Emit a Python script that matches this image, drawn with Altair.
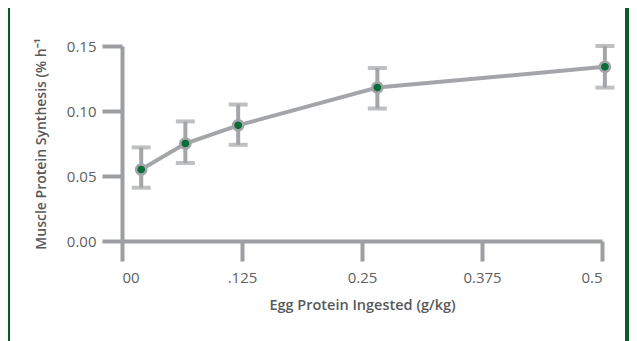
import altair as alt
import pandas as pd

# data
dose = [0.02, 0.066, 0.121, 0.266, 0.503]
mps = [0.055, 0.075, 0.089, 0.118, 0.134]
err_lo = [0.041, 0.060, 0.074, 0.102, 0.118]
err_hi = [0.072, 0.092, 0.105, 0.133, 0.150]

x_ticks = [0, 0.125, 0.25, 0.375, 0.5]
x_tick_labels = ["00", ".125", "0.25", "0.375", "0.5"]
y_ticks = [0, 0.05, 0.10, 0.15]

df = pd.DataFrame({"dose": dose, "mps": mps, "lo": err_lo, "hi": err_hi})

GRAY = "#a3a5a8"
AXIS_GRAY = "#9c9ea1"
TXT = "#5e5f61"
TITLE = "#58595b"
GREEN_BG = "#075c25"
GREEN_PT = "#0a6c3a"
FONT = "Open Sans"

label_expr = " : ".join(
    f"datum.value == {v} ? '{l}'" for v, l in zip(x_ticks, x_tick_labels)
) + " : ''"

xscale = alt.Scale(domain=[0, 0.5], nice=False, zero=False)
yscale = alt.Scale(domain=[0, 0.15], nice=False)

x_axis = alt.Axis(
    values=x_ticks, labelExpr=label_expr, title="Egg Protein Ingested (g/kg)",
    grid=False, domainColor=AXIS_GRAY, domainWidth=4, tickColor=AXIS_GRAY, tickWidth=4,
    tickSize=20, labelFont=FONT, labelFontSize=15, labelColor=TXT, labelPadding=9,
    titleFont=FONT, titleFontSize=14.5, titleFontWeight=600, titleColor=TITLE,
    titlePadding=13, domainCap="butt", zindex=1,
)
y_axis = alt.Axis(
    values=y_ticks, format=".2f", title="Muscle Protein Synthesis (% h⁻¹",
    grid=False, domainColor=AXIS_GRAY, domainWidth=4, tickColor=AXIS_GRAY, tickWidth=4,
    tickSize=20, labelFont=FONT, labelFontSize=15, labelColor=TXT, labelPadding=6,
    titleFont=FONT, titleFontSize=14, titleFontWeight=600, titleColor=TITLE,
    titlePadding=18, zindex=1,
)

base = alt.Chart(df)

# white panel over green background to form the frame
panel = base.mark_rect(color="white").encode(
    x=alt.value(-112), x2=alt.value(503), y=alt.value(-38), y2=alt.value(320)
)

line = base.mark_line(color=GRAY, strokeWidth=4).encode(
    x=alt.X("dose:Q", scale=xscale, axis=x_axis),
    y=alt.Y("mps:Q", scale=yscale, axis=y_axis),
)
bars = base.mark_rule(color=GRAY, strokeWidth=4).encode(
    x=alt.X("dose:Q", scale=xscale), y=alt.Y("lo:Q", scale=yscale), y2="hi:Q"
)
cap_hi = base.mark_tick(color=GRAY, thickness=4, size=19, orient="horizontal").encode(
    x=alt.X("dose:Q", scale=xscale), y=alt.Y("hi:Q", scale=yscale)
)
cap_lo = base.mark_tick(color=GRAY, thickness=4, size=19, orient="horizontal").encode(
    x=alt.X("dose:Q", scale=xscale), y=alt.Y("lo:Q", scale=yscale)
)
points = base.mark_point(
    filled=True, fill=GREEN_PT, stroke=GRAY, strokeWidth=2.5, size=105, opacity=1
).encode(x=alt.X("dose:Q", scale=xscale), y=alt.Y("mps:Q", scale=yscale))

chart = alt.layer(panel, line, bars, cap_hi, cap_lo, points).properties(
    width=480, height=195,
    autosize=alt.AutoSizeParams(type="none"),
    padding={"left": 114, "top": 38, "right": 27, "bottom": 100},
    background=GREEN_BG,
).configure_view(stroke=None)

chart.save("out.html", embed_options={"renderer": "svg", "actions": False})
